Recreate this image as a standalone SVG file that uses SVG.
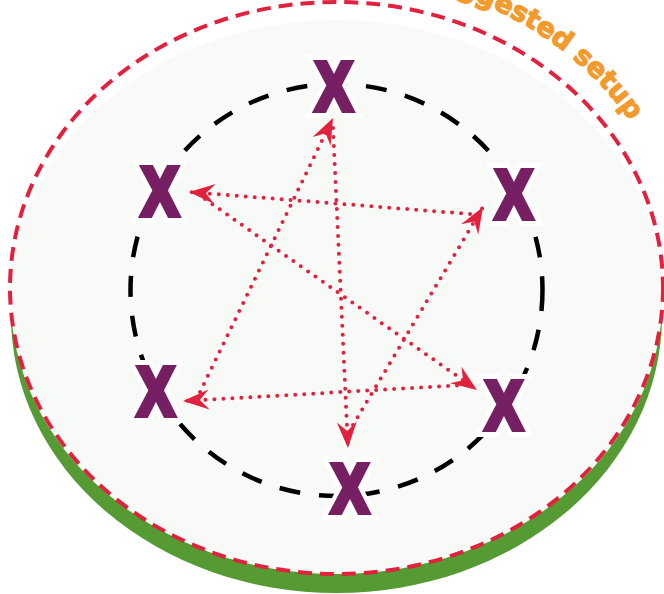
<svg xmlns="http://www.w3.org/2000/svg" width="664" height="594" viewBox="0 0 664 594">
<style>
.xw{font-family:"Liberation Sans",Arial,sans-serif;font-weight:bold;font-size:68px;text-anchor:middle;fill:#fff;stroke:#fff;stroke-width:16;stroke-linejoin:miter}
.xp{font-family:"Liberation Sans",Arial,sans-serif;font-weight:bold;font-size:68px;text-anchor:middle;fill:#771F63;stroke:#771F63;stroke-width:6;stroke-linejoin:miter}
.arr{fill:none;stroke:#E0223E;stroke-width:4;stroke-linecap:round;stroke-dasharray:0 9;marker-end:url(#ah)}
.lbl{font-family:"DejaVu Sans",sans-serif;font-weight:bold;font-size:27px;fill:#F39A2C;stroke:#F39A2C;stroke-width:1.2}
</style>
<defs>
<marker id="ah" markerUnits="userSpaceOnUse" markerWidth="30" markerHeight="24" viewBox="-28 -12 30 24" refX="0" refY="0" orient="auto">
<path d="M0,0 L-26,-10 L-17,0 L-26,10 Z" fill="#E0223E"/>
</marker>
<path id="lp" d="M-9.5,288 A346,310 0 0 1 630,121"/>
</defs>
<g id="field">
<ellipse cx="336.5" cy="316" rx="325.5" ry="277" fill="#559A32"/>
<ellipse cx="336.5" cy="297" rx="326" ry="277" fill="#F8FAF8"/>
<ellipse cx="336.5" cy="288" rx="326.5" ry="286" fill="none" stroke="#E0223E" stroke-width="4" stroke-dasharray="14 8"/>
<text class="lbl"><textPath href="#lp" startOffset="100%" text-anchor="end">Suggested setup</textPath></text>
<circle cx="336.5" cy="290" r="206" fill="none" stroke="#000" stroke-width="4.5" stroke-dasharray="21 19"/>
</g>
<g id="connectors">
<path class="arr" d="M470,214 L189,192"/>
<path class="arr" d="M205,199 L477,390"/>
<path class="arr" d="M466,385 L183,401"/>
<path class="arr" d="M200,392 L333,118"/>
<path class="arr" d="M333,128 L348,448"/>
<path class="arr" d="M353,425 L483,207"/>
</g>
<g id="x-top" transform="translate(334,85) scale(0.8,1)"><text class="xw" y="24.5">X</text><text class="xp" y="24.5">X</text></g>
<g id="x-topleft" transform="translate(160,190) scale(0.8,1)"><text class="xw" y="24.5">X</text><text class="xp" y="24.5">X</text></g>
<g id="x-topright" transform="translate(514,193) scale(0.8,1)"><text class="xw" y="24.5">X</text><text class="xp" y="24.5">X</text></g>
<g id="x-bottomleft" transform="translate(156,390) scale(0.8,1)"><text class="xw" y="24.5">X</text><text class="xp" y="24.5">X</text></g>
<g id="x-bottomright" transform="translate(504,404) scale(0.8,1)"><text class="xw" y="24.5">X</text><text class="xp" y="24.5">X</text></g>
<g id="x-bottom" transform="translate(350,487) scale(0.8,1)"><text class="xw" y="24.5">X</text><text class="xp" y="24.5">X</text></g>
</svg>
